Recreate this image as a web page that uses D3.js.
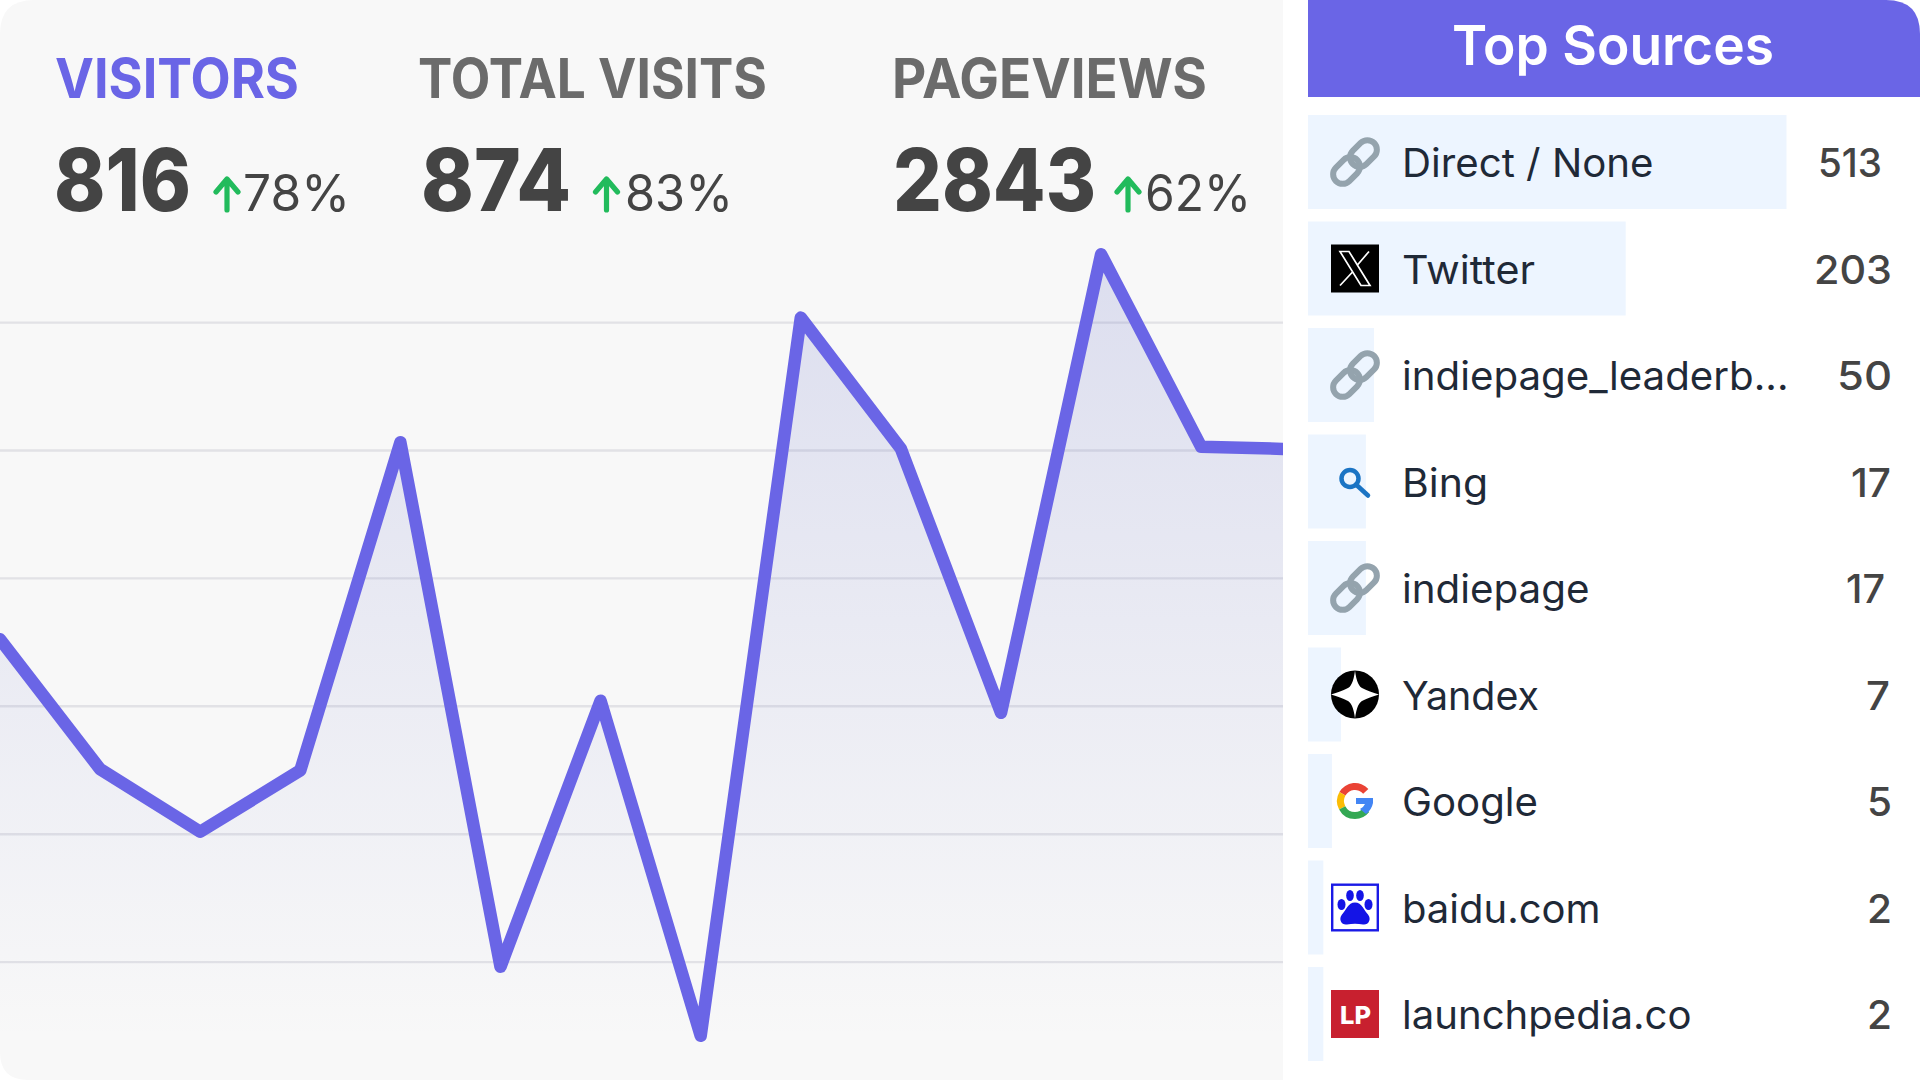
<!DOCTYPE html>
<html><head><meta charset="utf-8">
<script src="https://cdn.jsdelivr.net/npm/d3@7/dist/d3.min.js"></script>
<style>html,body{margin:0;padding:0;background:#fff;overflow:hidden}svg{display:block}text{font-family:Inter,"Noto Sans",sans-serif}</style>
</head><body><svg id="c" width="1920" height="1080"></svg>
<script>
// ---- data ----
const visitors = [70.4, 50.1, 40.3, 49.9, 101.2, 19.2, 60.8, 8.4, 120.7, 100.2, 58.9, 130.6, 100.5, 100.1];
const gridValues = [20, 40, 60, 80, 100, 120];
const statLabels = ["VISITORS", "TOTAL VISITS", "PAGEVIEWS"];
const statValues = ["816", "874", "2843"];
const statDeltas = ["78%", "83%", "62%"];
const sourceNames = ["Direct / None", "Twitter", "indiepage_leaderb...", "Bing", "indiepage", "Yandex", "Google", "baidu.com", "launchpedia.co"];
const sourceCounts = [513, 203, 50, 17, 17, 7, 5, 2, 2];
const sourceBarShare = [100, 66.4, 13.8, 12.1, 12.1, 6.9, 5, 3.2, 3.2];
const sourceIcons = ["link", "x", "link", "bing", "link", "yandex", "google", "baidu", "lp"];
const panelTitle = "Top Sources";

// ---- layout ----
const panelW = 1283, H = 1080;
const accent = "#6a65e6";
const statLayout = [
  {lx:55, lw:244, vx:54, vw:137, ax:227, dx:243, dw:107},
  {lx:418, lw:349, vx:421, vw:150, ax:606.5, dx:625, dw:108},
  {lx:892, lw:315, vx:893, vw:203, ax:1128, dx:1145, dw:106}
];
const labelWidths = [251.5, 133, 386.5, 86, 187.5, 137, 136, 198.5, 289.5];
const countBox = [[1818,1882],[1814,1892],[1837,1892],[1851,1891],[1846,1885],[1866,1890],[1867,1892],[1867,1892],[1867,1892]];

const svg = d3.select("#c");
const defs = svg.append("defs");
const panelPath = `M0,34Q0,0 34,0H${panelW}V${H}H28Q0,${H} 0,${H-28}Z`;
defs.append("clipPath").attr("id","pc").append("path").attr("d",panelPath);
const g = defs.append("linearGradient").attr("id","ag").attr("gradientUnits","userSpaceOnUse")
  .attr("x1",0).attr("x2",0).attr("y1",254).attr("y2",1040);
g.append("stop").attr("offset",0).attr("stop-color","#5c66c4").attr("stop-opacity",.18);
g.append("stop").attr("offset",1).attr("stop-color","#5c66c4").attr("stop-opacity",0);

svg.append("path").attr("d",panelPath).attr("fill","#f8f8f8");

const x = d3.scaleLinear().domain([0, visitors.length-1]).range([0, 1301.3]);
const y = d3.scaleLinear().domain([0, 140]).range([1089.5, 194.2]);

function fit(parent, str, px, base, w, size, weight, fill){
  return parent.append("text").attr("x",px).attr("y",base).attr("font-size",size).attr("font-weight",weight)
    .attr("fill",fill).attr("textLength",w).attr("lengthAdjust","spacingAndGlyphs").text(str);
}

// chart
const chart = svg.append("g").attr("clip-path","url(#pc)");
const axis = d3.axisLeft(y).tickValues(gridValues).tickSize(-panelW).tickFormat("");
const ag = chart.append("g").call(axis);
ag.select(".domain").remove();
ag.selectAll("line").attr("stroke","#e2e2e6").attr("stroke-width",2.4);
chart.append("path").datum(visitors).attr("fill","url(#ag)")
  .attr("d", d3.area().x((d,i)=>x(i)).y0(H+20).y1(d=>y(d)));
chart.append("path").datum(visitors).attr("fill","none").attr("stroke",accent).attr("stroke-width",12.5)
  .attr("stroke-linejoin","round").attr("stroke-linecap","round")
  .attr("d", d3.line().x((d,i)=>x(i)).y(d=>y(d)));

// stats
statLabels.forEach((s,i)=>{
  const L = statLayout[i];
  fit(svg, s, L.lx, 97.5, L.lw, 55, 700, i===0?accent:"#6b6b6b");
  fit(svg, statValues[i], L.vx, 210.5, L.vw, 86, 800, "#444444");
  fit(svg, statDeltas[i], L.dx, 210.5, L.dw, 50, 400, "#444444");
  svg.append("path").attr("d",`M${L.ax},210V179M${L.ax-11},192L${L.ax},179L${L.ax+11},192`)
    .attr("fill","none").attr("stroke","#22bb5c").attr("stroke-width",5.2).attr("stroke-linecap","round").attr("stroke-linejoin","round");
});

// header
svg.append("path").attr("d","M1308,0H1886Q1920,0 1920,34V97H1308Z").attr("fill",accent);
fit(svg, panelTitle, 1452, 65, 322, 55, 600, "#ffffff");

// rows
const barX = d3.scaleLinear().domain([0,100]).range([1308, 1786.5]);
const bandY = i => 115 + 106.5*i;
const rows = svg.selectAll("g.row").data(sourceNames).join("g").attr("class","row");
rows.append("rect").attr("x",barX(0)).attr("y",(d,i)=>bandY(i)).attr("height",94)
  .attr("width",(d,i)=>barX(sourceBarShare[i])-barX(0)).attr("fill","#edf5ff");
rows.each(function(d,i){
  const r = d3.select(this), base = bandY(i)+62;
  fit(r, d, 1402, base, labelWidths[i], 39, 400, "#1f2937");
  fit(r, String(sourceCounts[i]), countBox[i][0], base, countBox[i][1]-countBox[i][0], 40, 500, "#444444");
  drawIcon(r.append("g").attr("transform",`translate(1355,${bandY(i)+47})`), sourceIcons[i]);
});

function drawIcon(n, t){
  if(t==="link"){
    const c = n.append("g").attr("transform","rotate(-45)");
    c.append("rect").attr("x",-27).attr("y",-9.5).attr("width",30).attr("height",19).attr("rx",9.5)
      .attr("fill","none").attr("stroke","#94a3ad").attr("stroke-width",6);
    c.append("rect").attr("x",-3).attr("y",-9.5).attr("width",30).attr("height",19).attr("rx",9.5)
      .attr("fill","none").attr("stroke","#94a3ad").attr("stroke-width",6);
  } else if(t==="x"){
    n.append("rect").attr("x",-24).attr("y",-24).attr("width",48).attr("height",48).attr("fill","#000");
    n.append("path").attr("d","M-15,-17H-6L15,17H6ZM14,-17L2,-3M-2,3L-15,17").attr("fill","none").attr("stroke","#fff").attr("stroke-width",1.7);
  } else if(t==="bing"){
    n.append("circle").attr("cx",-5).attr("cy",-3).attr("r",8.5).attr("fill","none").attr("stroke","#1b74c4").attr("stroke-width",4.5);
    n.append("path").attr("d","M1,3L13,14").attr("stroke","#1b74c4").attr("stroke-width",4.5).attr("stroke-linecap","round");
  } else if(t==="yandex"){
    n.append("circle").attr("r",24).attr("fill","#000");
    n.append("path").attr("d","M0,-24Q2,-8 8,-6Q14,-3 24,0Q14,3 8,6Q2,8 0,24Q-2,8 -8,6Q-14,3 -24,0Q-14,-3 -8,-6Q-2,-8 0,-24Z").attr("fill","#fff");
  } else if(t==="google"){
    const r=14.5, arc=d3.arc().innerRadius(r-3.5).outerRadius(r+3.5), deg=Math.PI/180;
    n.append("path").attr("d",arc({startAngle:-60*deg,endAngle:48*deg})).attr("fill","#ea4335");
    n.append("path").attr("d",arc({startAngle:-118*deg,endAngle:-60*deg})).attr("fill","#fbbc05");
    n.append("path").attr("d",arc({startAngle:-180*deg,endAngle:-118*deg})).attr("fill","#34a853");
    n.append("path").attr("d",arc({startAngle:128*deg,endAngle:180*deg})).attr("fill","#34a853");
    n.append("path").attr("d","M1,-3H18V2A18,18 0 0 1 11,13L5,8A10,10 0 0 0 10,3H1Z").attr("fill","#4285f4");
  } else if(t==="baidu"){
    n.append("rect").attr("x",-22.8).attr("y",-22.8).attr("width",45.6).attr("height",45.6).attr("fill","#fff").attr("stroke","#1a1ae6").attr("stroke-width",2.4);
    const b="#1414e6";
    [[-13.5,-3,4,5.5],[-5,-12,3.8,5.5],[5,-12,3.8,5.5],[13.5,-3,4,5.5]].forEach(p=>n.append("ellipse").attr("cx",p[0]).attr("cy",p[1]).attr("rx",p[2]).attr("ry",p[3]).attr("fill",b));
    n.append("path").attr("d","M0,-5C7,-5 9,3 13,7C17,12 13,18 8,17C3,16 -3,16 -8,17C-13,18 -17,12 -13,7C-9,3 -7,-5 0,-5Z").attr("fill",b);
  } else if(t==="lp"){
    n.append("rect").attr("x",-24).attr("y",-24).attr("width",48).attr("height",48).attr("fill","#c8202f");
    fit(n,"LP",-15,9.5,31,25,800,"#fff");
  }
}
</script></body></html>
